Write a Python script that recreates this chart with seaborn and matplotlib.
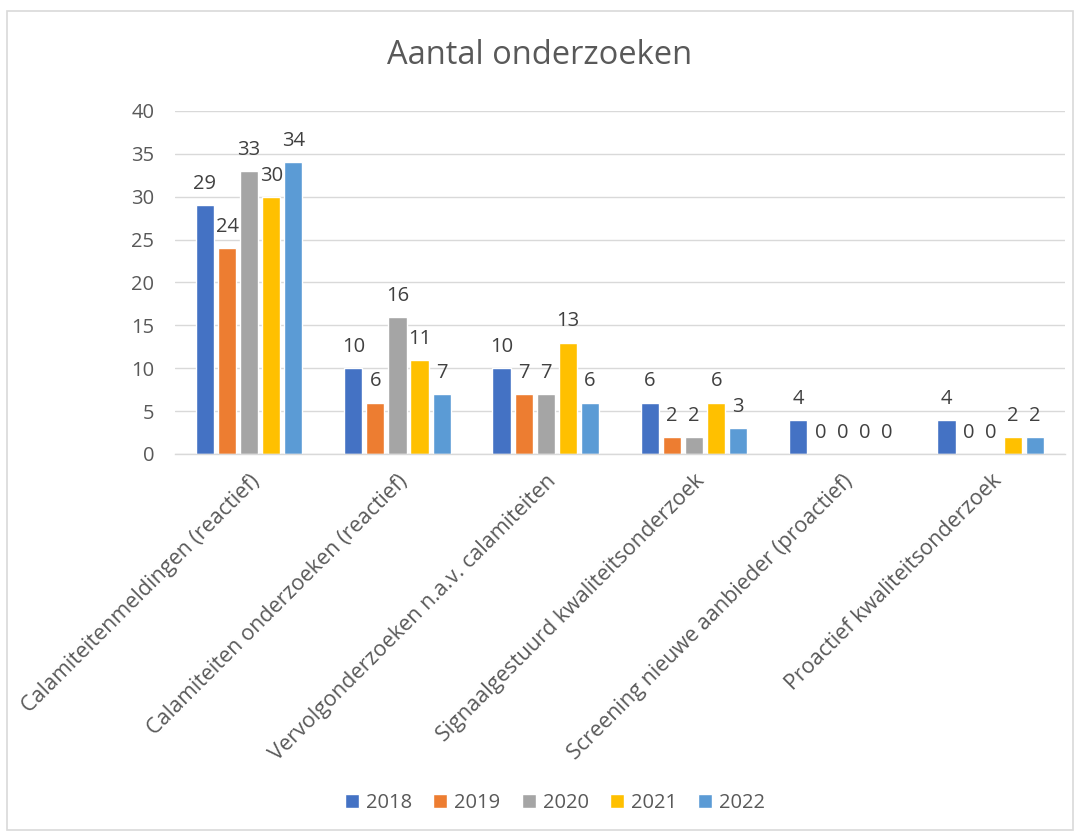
import matplotlib
matplotlib.use("Agg")
import matplotlib.pyplot as plt
import seaborn as sns
import pandas as pd
from matplotlib.patches import Rectangle

categories = [
    "Calamiteitenmeldingen (reactief)",
    "Calamiteiten onderzoeken (reactief)",
    "Vervolgonderzoeken n.a.v. calamiteiten",
    "Signaalgestuurd kwaliteitsonderzoek",
    "Screening nieuwe aanbieder (proactief)",
    "Proactief kwaliteitsonderzoek",
]
years = ["2018", "2019", "2020", "2021", "2022"]
v2018 = [29, 10, 10, 6, 4, 4]
v2019 = [24, 6, 7, 2, 0, 0]
v2020 = [33, 16, 7, 2, 0, 0]
v2021 = [30, 11, 13, 6, 0, 2]
v2022 = [34, 7, 6, 3, 0, 2]
colors = ["#4472C4", "#ED7D31", "#A5A5A5", "#FFC000", "#5B9BD5"]

series = [v2018, v2019, v2020, v2021, v2022]
rows = []
for y, vals in zip(years, series):
    for c, v in zip(categories, vals):
        rows.append({"categorie": c, "jaar": y, "aantal": v})
df = pd.DataFrame(rows)

sns.set_theme(style="white")
plt.rcParams["font.family"] = ["Open Sans", "DejaVu Sans"]
txt = "#595959"
fs = 14.5

fig = plt.figure(figsize=(10.8, 8.35), dpi=100)
ax = fig.add_axes([0.162, 0.4563, 0.824, 0.4108])

sns.barplot(data=df, x="categorie", y="aantal", hue="jaar", hue_order=years,
            order=categories, palette=colors, width=0.745, gap=0.18,
            errorbar=None, ax=ax, saturation=1)

for cont in ax.containers:
    ax.bar_label(cont, fmt="%d", padding=8, fontsize=fs, color="#404040")

ax.set_ylim(0, 40)
ax.set_yticks(range(0, 41, 5))
ax.set_xlim(-0.5, len(categories) - 0.5)
ax.grid(axis="y", color="#D9D9D9", linewidth=1)
ax.set_axisbelow(True)
for s in ["top", "right", "left"]:
    ax.spines[s].set_visible(False)
ax.spines["bottom"].set_color("#D9D9D9")
ax.spines["bottom"].set_linewidth(1)
ax.tick_params(axis="y", length=0, labelsize=fs, colors=txt, pad=15)
ax.tick_params(axis="x", length=0, labelsize=15.5, colors=txt, pad=12)
ax.set_xlabel("")
ax.set_ylabel("")
ax.set_xticks(range(len(categories)))
ax.set_xticklabels(categories, rotation=45, ha="right", va="top",
                   rotation_mode="anchor", fontsize=15.5, color=txt)

fig.text(0.5, 0.934, "Aantal onderzoeken", ha="center", va="center",
         fontsize=23.5, color=txt)

handles, labels = ax.get_legend_handles_labels()
if ax.legend_:
    ax.legend_.remove()
fig.legend(handles, labels, loc="center", bbox_to_anchor=(0.514, 0.038),
           ncol=5, frameon=False, fontsize=fs, handlelength=0.7,
           handleheight=0.7, handletextpad=0.35, columnspacing=1.05,
           labelcolor=txt)

fig.add_artist(Rectangle((7 / 1080, 5 / 835), 1066 / 1080, 819 / 835,
                         transform=fig.transFigure, fill=False,
                         edgecolor="#D9D9D9", linewidth=1.2))

fig.savefig("out.png", dpi=100)
